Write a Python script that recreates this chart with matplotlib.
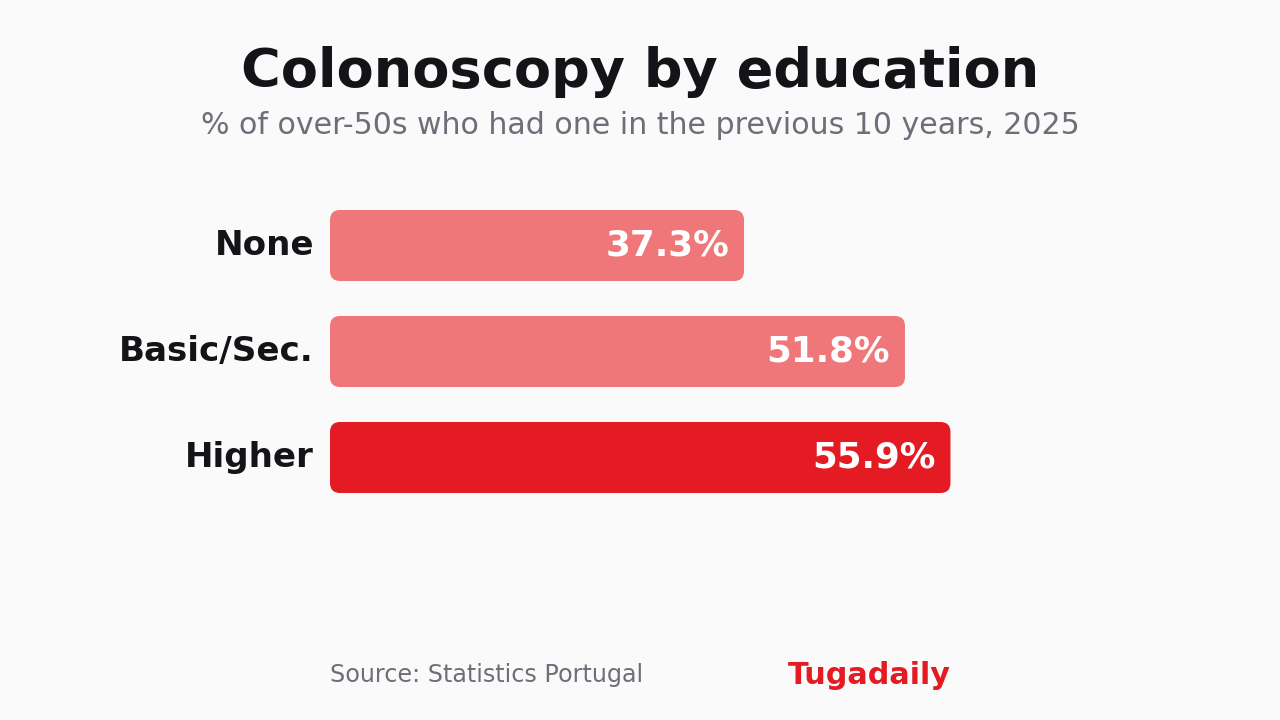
import matplotlib.pyplot as plt
from matplotlib.patches import FancyBboxPatch

plt.rcParams['font.family'] = ['DejaVu Sans']

categories = ['None', 'Basic/Sec.', 'Higher']
values = [37.3, 51.8, 55.9]
colors = ['#EF777A', '#EF777A', '#E41B23']

BG = '#FAFAFA'

fig = plt.figure(figsize=(12.8, 7.2), dpi=100, facecolor=BG)
# axes placed in pixel terms: x from 330px, 11.1 px per %, rows 106px apart
ax = fig.add_axes([330 / 1280, 1 - 510.5 / 720, 666 / 1280, 318 / 720])
ax.set_facecolor(BG)
ax.set_xlim(0, 60)
ax.set_ylim(2.5, -0.5)
ax.axis('off')

bars = ax.barh(range(len(categories)), values, height=0.67, color=colors)
ratio = (10 / 106) / (10 / 11.1)
for b, c in zip(bars, colors):
    x, y = b.get_x(), b.get_y()
    w, h = b.get_width(), b.get_height()
    b.set_visible(False)
    p = FancyBboxPatch((x, y), w, h,
                       boxstyle='round,pad=0,rounding_size=0.9',
                       mutation_aspect=ratio, facecolor=c, edgecolor='none')
    ax.add_patch(p)

for i, (cat, v) in enumerate(zip(categories, values)):
    ax.text(-1.45, i, cat, ha='right', va='center', fontsize=24.6,
            fontweight='bold', color='#141418')
    ax.text(v - 1.35, i, f'{v}%', ha='right', va='center', fontsize=25.7,
            fontweight='bold', color='white')

fig.text(0.5, 1 - 72 / 720, 'Colonoscopy by education', ha='center', va='center',
         fontsize=39, fontweight='bold', color='#141418')
fig.text(0.5, 1 - 125 / 720, '% of over-50s who had one in the previous 10 years, 2025',
         ha='center', va='center', fontsize=21.6, color='#6E6E78')
fig.text(330 / 1280, 1 - 675 / 720, 'Source: Statistics Portugal', ha='left',
         va='center', fontsize=17.2, color='#6E6E78')
fig.text(951 / 1280, 1 - 675 / 720, 'Tugadaily', ha='right', va='center',
         fontsize=21.8, fontweight='bold', color='#E41B23')

fig.savefig('out.png', dpi=100, facecolor=BG)
